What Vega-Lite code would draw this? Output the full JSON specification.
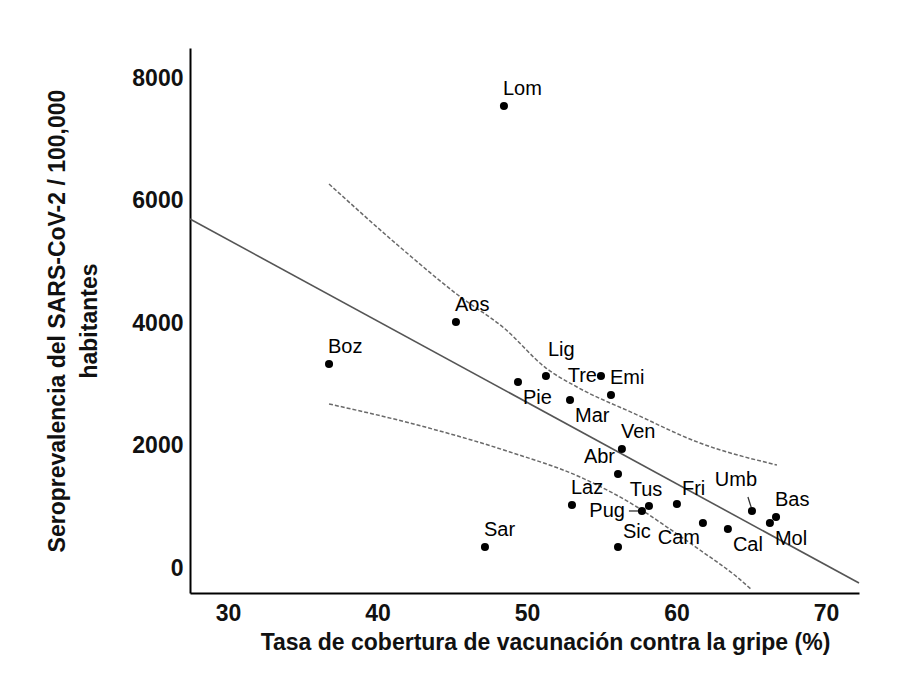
{
  "$schema": "https://vega.github.io/schema/vega-lite/v6.json",
  "width": 669,
  "height": 545,
  "autosize": {"type": "none"},
  "padding": {"left": 190, "top": 48, "right": 39, "bottom": 88},
  "background": "white",
  "config": {
    "view": {"stroke": null},
    "font": "Liberation Sans",
    "axis": {"grid": false, "ticks": false, "domainColor": "#000000", "domainWidth": 2, "labelColor": "#111111", "titleColor": "#111111", "labelFont": "Liberation Sans", "titleFont": "Liberation Sans", "labelFontWeight": "bold", "titleFontWeight": "bold"}
  },
  "datasets": {
    "pts": [
      {"reg": "Lom", "vac": 48.46, "sero": 7543, "pos": "a"},
      {"reg": "Aos", "vac": 45.25, "sero": 4016, "pos": "a"},
      {"reg": "Boz", "vac": 36.76, "sero": 3331, "pos": "a"},
      {"reg": "Pie", "vac": 49.40, "sero": 3037, "pos": "b"},
      {"reg": "Lig", "vac": 51.27, "sero": 3135, "pos": "h"},
      {"reg": "Tre", "vac": 54.95, "sero": 3135, "pos": "l"},
      {"reg": "Emi", "vac": 55.62, "sero": 2824, "pos": "a"},
      {"reg": "Mar", "vac": 52.88, "sero": 2743, "pos": "b"},
      {"reg": "Ven", "vac": 56.35, "sero": 1943, "pos": "a"},
      {"reg": "Abr", "vac": 56.09, "sero": 1535, "pos": "al"},
      {"reg": "Laz", "vac": 53.01, "sero": 1029, "pos": "a"},
      {"reg": "Tus", "vac": 58.16, "sero": 1012, "pos": "ac"},
      {"reg": "Pug", "vac": 57.69, "sero": 931, "pos": "lf"},
      {"reg": "Fri", "vac": 60.03, "sero": 1045, "pos": "ar"},
      {"reg": "Umb", "vac": 65.05, "sero": 931, "pos": "u"},
      {"reg": "Bas", "vac": 66.66, "sero": 833, "pos": "a"},
      {"reg": "Mol", "vac": 66.25, "sero": 735, "pos": "b"},
      {"reg": "Cam", "vac": 61.77, "sero": 735, "pos": "bl"},
      {"reg": "Cal", "vac": 63.44, "sero": 637, "pos": "b"},
      {"reg": "Sic", "vac": 56.09, "sero": 343, "pos": "ar"},
      {"reg": "Sar", "vac": 47.19, "sero": 343, "pos": "a"}
    ],
    "fit": [
      {"vac": 27.46, "sero": 5698},
      {"vac": 72.21, "sero": -245}
    ],
    "upper": [
      {"vac": 36.76, "sero": 6269},
      {"vac": 41.50, "sero": 5241},
      {"vac": 45.38, "sero": 4457},
      {"vac": 48.50, "sero": 3910},
      {"vac": 51.27, "sero": 3265},
      {"vac": 53.35, "sero": 2955},
      {"vac": 57.10, "sero": 2530},
      {"vac": 61.57, "sero": 2041},
      {"vac": 66.72, "sero": 1682}
    ],
    "lower": [
      {"vac": 36.76, "sero": 2678},
      {"vac": 42.17, "sero": 2367},
      {"vac": 48.86, "sero": 1894},
      {"vac": 53.55, "sero": 1486},
      {"vac": 57.36, "sero": 996},
      {"vac": 59.36, "sero": 669},
      {"vac": 61.57, "sero": 294},
      {"vac": 64.05, "sero": -147},
      {"vac": 65.05, "sero": -359}
    ],
    "leaders": [
      {"vac": 56.82, "sero": 931, "vac2": 57.49, "sero2": 931},
      {"vac": 64.78, "sero": 1159, "vac2": 65.00, "sero2": 990}
    ]
  },
  "encoding": {
    "x": {"field": "vac", "type": "quantitative", "scale": {"domain": [27.46, 72.21], "nice": false, "zero": false},
      "axis": {"values": [30, 40, 50, 60, 70], "labelFontSize": 23, "labelPadding": 9, "title": "Tasa de cobertura de vacunación contra la gripe (%)", "titleFontSize": 23, "titlePadding": 6, "titleX": 355}},
    "y": {"field": "sero", "type": "quantitative", "scale": {"domain": [-408, 8490], "nice": false, "zero": false},
      "axis": {"values": [0, 2000, 4000, 6000, 8000], "format": "d", "labelFontSize": 23, "labelPadding": 7, "title": ["Seroprevalencia del SARS-CoV-2 / 100,000", "habitantes"], "titleFontSize": 23, "titleLineHeight": 32, "titlePadding": 30}}
  },
  "layer": [
    {"data": {"name": "upper"}, "mark": {"type": "line", "color": "#6a6a6a", "strokeWidth": 1.5, "strokeDash": [4, 2], "interpolate": "monotone"}},
    {"data": {"name": "lower"}, "mark": {"type": "line", "color": "#6a6a6a", "strokeWidth": 1.5, "strokeDash": [4, 2], "interpolate": "monotone"}},
    {"data": {"name": "fit"}, "mark": {"type": "line", "color": "#555555", "strokeWidth": 1.6}},
    {"data": {"name": "leaders"}, "mark": {"type": "rule", "color": "#333333", "strokeWidth": 1.3},
      "encoding": {"x2": {"field": "vac2"}, "y2": {"field": "sero2"}}},
    {"data": {"name": "pts"}, "mark": {"type": "circle", "color": "#000000", "opacity": 1, "size": 65}},
    {"data": {"name": "pts"}, "transform": [{"filter": "datum.pos === 'a'"}],
      "mark": {"type": "text", "align": "left", "baseline": "middle", "dx": -1, "dy": -17, "fontSize": 20, "color": "#000000"},
      "encoding": {"text": {"field": "reg"}}},
    {"data": {"name": "pts"}, "transform": [{"filter": "datum.pos === 'ar'"}],
      "mark": {"type": "text", "align": "left", "baseline": "middle", "dx": 5, "dy": -15, "fontSize": 20, "color": "#000000"},
      "encoding": {"text": {"field": "reg"}}},
    {"data": {"name": "pts"}, "transform": [{"filter": "datum.pos === 'al'"}],
      "mark": {"type": "text", "align": "right", "baseline": "middle", "dx": -3, "dy": -17, "fontSize": 20, "color": "#000000"},
      "encoding": {"text": {"field": "reg"}}},
    {"data": {"name": "pts"}, "transform": [{"filter": "datum.pos === 'ac'"}],
      "mark": {"type": "text", "align": "center", "baseline": "middle", "dx": -3, "dy": -16, "fontSize": 20, "color": "#000000"},
      "encoding": {"text": {"field": "reg"}}},
    {"data": {"name": "pts"}, "transform": [{"filter": "datum.pos === 'b'"}],
      "mark": {"type": "text", "align": "left", "baseline": "middle", "dx": 5, "dy": 16, "fontSize": 20, "color": "#000000"},
      "encoding": {"text": {"field": "reg"}}},
    {"data": {"name": "pts"}, "transform": [{"filter": "datum.pos === 'bl'"}],
      "mark": {"type": "text", "align": "right", "baseline": "middle", "dx": -3, "dy": 15, "fontSize": 20, "color": "#000000"},
      "encoding": {"text": {"field": "reg"}}},
    {"data": {"name": "pts"}, "transform": [{"filter": "datum.pos === 'l'"}],
      "mark": {"type": "text", "align": "right", "baseline": "middle", "dx": -4, "dy": 0, "fontSize": 20, "color": "#000000"},
      "encoding": {"text": {"field": "reg"}}},
    {"data": {"name": "pts"}, "transform": [{"filter": "datum.pos === 'lf'"}],
      "mark": {"type": "text", "align": "right", "baseline": "middle", "dx": -17, "dy": 0, "fontSize": 20, "color": "#000000"},
      "encoding": {"text": {"field": "reg"}}},
    {"data": {"name": "pts"}, "transform": [{"filter": "datum.pos === 'h'"}],
      "mark": {"type": "text", "align": "left", "baseline": "middle", "dx": 2, "dy": -26, "fontSize": 20, "color": "#000000"},
      "encoding": {"text": {"field": "reg"}}},
    {"data": {"name": "pts"}, "transform": [{"filter": "datum.pos === 'u'"}],
      "mark": {"type": "text", "align": "center", "baseline": "middle", "dx": -16, "dy": -31, "fontSize": 20, "color": "#000000"},
      "encoding": {"text": {"field": "reg"}}}
  ]
}
